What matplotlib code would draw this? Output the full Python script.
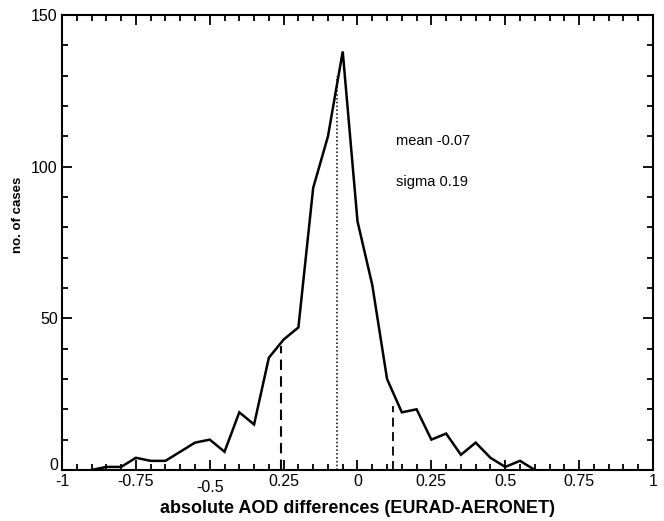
import numpy as np
import matplotlib
matplotlib.use("Agg")
import matplotlib.pyplot as plt
from matplotlib.ticker import MultipleLocator, FixedLocator
from matplotlib.transforms import ScaledTranslation

plt.rcParams['font.family'] = ['Liberation Sans', 'DejaVu Sans']

# histogram of differences, bins every 0.05
diff_bins = [-0.90, -0.85, -0.80, -0.75, -0.70, -0.65, -0.60, -0.55, -0.50, -0.45,
             -0.40, -0.35, -0.30, -0.25, -0.20, -0.15, -0.10, -0.05, 0.00, 0.05,
             0.10, 0.15, 0.20, 0.25, 0.30, 0.35, 0.40, 0.45, 0.50, 0.55, 0.60]
n_cases = [0, 1, 1, 4, 3, 3, 6, 9, 10, 6,
           19, 15, 37, 43, 47, 93, 110, 138, 82, 61,
           30, 19, 20, 10, 12, 5, 9, 4, 1, 3, 0]

mean_val = -0.07
sigma_val = 0.19
mean_height = 130
sigma_heights = [41, 21]   # at mean-sigma, mean+sigma

xtick_pos = [-1, -0.75, -0.5, -0.25, 0, 0.25, 0.5, 0.75, 1]
xtick_lbl = ["-1", "-0.75", "-0.5", "0.25", "0", "0.25", "0.5", "0.75", "1"]
ytick_pos = [0, 50, 100, 150]
ytick_lbl = ["0", "50", "100", "150"]


fig = plt.figure(figsize=(6.64, 5.21), dpi=100)
ax = fig.add_axes([0.0934, 0.098, 0.890, 0.873])

ax.plot(diff_bins, n_cases, color="black", lw=1.8, solid_joinstyle="miter")

ax.plot([mean_val, mean_val], [0, mean_height], color="black", lw=1.1,
        linestyle=(0, (1, 1.5)))
ax.plot([mean_val - sigma_val] * 2, [0, sigma_heights[0]], color="black", lw=1.5,
        linestyle=(0, (5, 3)))
ax.plot([mean_val + sigma_val] * 2, [0, sigma_heights[1]], color="black", lw=1.3,
        linestyle=(0, (5, 3)))

ax.text(0.13, 108.5, "mean -0.07", fontsize=10.5, ha="left", va="center")
ax.text(0.13, 95, "sigma 0.19", fontsize=10.5, ha="left", va="center")

ax.set_xlim(-1, 1)
ax.set_ylim(0, 150)

ax.xaxis.set_major_locator(FixedLocator(xtick_pos))
ax.set_xticklabels(xtick_lbl)
ax.xaxis.set_minor_locator(MultipleLocator(0.05))
ax.yaxis.set_major_locator(FixedLocator(ytick_pos))
ax.set_yticklabels(ytick_lbl)
ax.yaxis.set_minor_locator(MultipleLocator(10))

ax.tick_params(which="both", direction="in", top=True, right=True,
               labelsize=11.5, width=1.3, color="black")
ax.tick_params(which="major", length=7, pad=3)
ax.tick_params(which="minor", length=4.5)

for sp in ax.spines.values():
    sp.set_linewidth(1.5)

# the -0.5 label sits a bit lower in the original
lbl = ax.get_xticklabels()[2]
lbl.set_transform(lbl.get_transform() + ScaledTranslation(0, -4 / 72, fig.dpi_scale_trans))
# lift the y "0" a little so it clears the "-1"
lbl0 = ax.get_yticklabels()[0]
lbl0.set_transform(lbl0.get_transform() + ScaledTranslation(0, 4 / 72, fig.dpi_scale_trans))

ax.set_xlabel("absolute AOD differences (EURAD-AERONET)", fontsize=13, fontweight="bold",
              labelpad=4)
ax.set_ylabel("no. of cases", fontsize=9.5, fontweight="bold", labelpad=3)
ax.yaxis.set_label_coords(-0.065, 0.56)

fig.savefig("out.png", dpi=100)
